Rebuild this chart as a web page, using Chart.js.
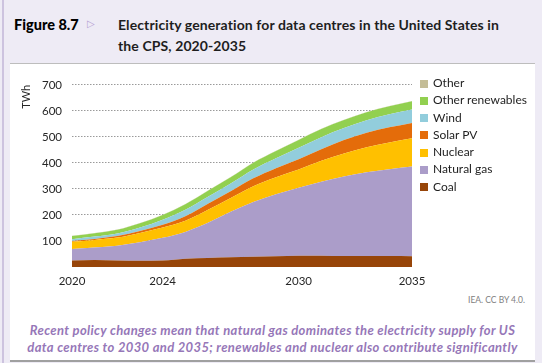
<!DOCTYPE html>
<html>
<head>
<meta charset="utf-8">
<script src="https://cdn.jsdelivr.net/npm/chart.js@4.4.0/dist/chart.umd.min.js"></script>
<style>
  body { margin: 0; width: 542px; height: 363px; background: #EEEBF5; position: relative; overflow: hidden; font-family: Lato, sans-serif; }
  #leftbar { position: absolute; left: 2px; top: 0; width: 2px; height: 363px; background: #CDC3DF; }
  #fig { position: absolute; left: 14px; top: 16px; font: 900 14.5px Lato, "Liberation Sans", sans-serif; color: #000; }
  #tri { position: absolute; left: 87px; top: 18px; font: 10px "DejaVu Sans", sans-serif; color: #B79FD4; }
  #title { position: absolute; left: 118px; top: 14px; font: bold 14px Lato, sans-serif; letter-spacing: 0.1px; color: #1E1E1E; line-height: 21px; }
  #panel { position: absolute; left: 10px; top: 63px; width: 525px; height: 296px; background: #fff; border-top: 1px solid #BDBDBD; border-bottom: 2px solid #A0A0A0; }
  #wrap { position: absolute; left: 10px; top: 68px; width: 430px; height: 228px; }
  #legend { position: absolute; left: 420px; top: 74px; font: 12px Lato, sans-serif; color: #1E1E1E; }
  #legend div { height: 17.3px; line-height: 17.3px; white-space: nowrap; }
  #legend span { display: inline-block; width: 8px; height: 8px; margin-right: 5px; vertical-align: -0.5px; }
  #src { position: absolute; right: 17px; top: 295px; font: 8.5px Lato, sans-serif; color: #808080; }
  #caption { position: absolute; left: 10px; width: 525px; top: 322px; text-align: center; font: italic bold 13px Lato, sans-serif; letter-spacing: 0.35px; color: #9677B8; line-height: 16.5px; }
</style>
</head>
<body>
<div id="leftbar"></div>
<div id="fig">Figure 8.7</div>
<div id="tri">▷</div>
<div id="title">Electricity generation for data centres in the United States in<br>the CPS, 2020-2035</div>
<div id="panel"></div>
<div id="wrap"><canvas id="chart"></canvas></div>
<div id="legend"></div>
<div id="src">IEA. CC BY 4.0.</div>
<div id="caption">Recent policy changes mean that natural gas dominates the electricity supply for US<br>data centres to 2030 and 2035; renewables and nuclear also contribute significantly</div>

<script>
// values, TWh per year
const years = ['2020', '2021', '2022', '2023', '2024', '2025', '2026', '2027', '2028', '2029', '2030', '2031', '2032', '2033', '2034', '2035'];
const shownYears = ['2020', '2024', '2030', '2035'];
const yTicks = [100, 200, 300, 400, 500, 600, 700];

const coal            = [25, 27, 25, 24, 25, 32, 35, 37, 39, 41, 43, 43, 42, 42, 42, 41];
const naturalGas      = [44, 48, 57, 71, 87, 103, 135, 175, 211, 239, 262, 285, 306, 322, 334, 345];
const nuclear         = [28, 29, 31, 36, 40, 43, 50, 53, 60, 65, 70, 80, 88, 96, 103, 109];
const solarPV         = [3, 4, 6, 7, 10, 17, 23, 26, 31, 35, 39, 45, 52, 56, 58, 59];
const wind            = [7, 9, 10, 14, 20, 25, 27, 30, 34, 38, 44, 46, 46, 48, 50, 51];
const otherRenewables = [12, 13, 14, 16, 18, 21, 23, 24, 26, 28, 30, 31, 31, 31, 31, 32];
const other           = [1, 1, 1, 1, 1, 1, 1, 1, 1, 1, 1, 1, 1, 1, 1, 1];

const names  = ['Coal', 'Natural gas', 'Nuclear', 'Solar PV', 'Wind', 'Other renewables', 'Other'];
const series = [coal, naturalGas, nuclear, solarPV, wind, otherRenewables, other];
const colors = ['#974509', '#AB9DC9', '#FFC000', '#E46C0A', '#92CDDC', '#92D050', '#C4BD97'];

const datasets = series.map((d, i) => ({
  label: names[i],
  data: d,
  backgroundColor: colors[i],
  borderWidth: 0,
  pointRadius: 0,
  fill: i === 0 ? 'origin' : '-1',
  cubicInterpolationMode: 'monotone'
}));

// html legend, top to bottom = reverse of stacking
let leg = document.getElementById('legend');
for (let i = names.length - 1; i >= 0; i--) {
  let row = document.createElement('div');
  row.innerHTML = '<span style="background:' + colors[i] + '"></span>' + names[i];
  leg.appendChild(row);
}

new Chart(document.getElementById('chart'), {
  type: 'line',
  data: { labels: years, datasets: datasets },
  options: {
    responsive: true,
    maintainAspectRatio: false,
    animation: false,
    layout: { padding: { left: 0, right: 28, top: 12, bottom: 0 } },
    plugins: { legend: { display: false }, tooltip: { enabled: false } },
    scales: {
      x: {
        offset: false,
        grid: { display: false, drawTicks: false },
        border: { display: false },
        ticks: {
          autoSkip: false, maxRotation: 0, padding: 7,
          color: '#262626', font: { family: 'Lato', size: 11.5 },
          callback: function (v) { let l = this.getLabelForValue(v); return shownYears.includes(l) ? l : ''; }
        },
        afterFit: s => { s.height = 29; }
      },
      y: {
        stacked: true,
        min: 0, max: 700,
        afterBuildTicks: s => { s.ticks = [0].concat(yTicks).map(v => ({ value: v })); },
        grid: {
          drawTicks: false,
          color: c => c.tick.value === 0 ? 'rgba(0,0,0,0)' : '#9A9A9A',
          lineWidth: 1
        },
        border: { display: false, dash: [1.5, 1.5] },
        ticks: {
          padding: 10, color: '#262626', font: { family: 'Lato', size: 11.5 },
          callback: v => v === 0 ? '' : v
        },
        title: { display: true, text: 'TWh', align: 'end', color: '#262626', font: { family: 'Lato', size: 11 }, padding: { top: 10, bottom: 0 } },
        afterFit: s => { s.width = 62; }
      }
    }
  }
});
</script>
</body>
</html>
